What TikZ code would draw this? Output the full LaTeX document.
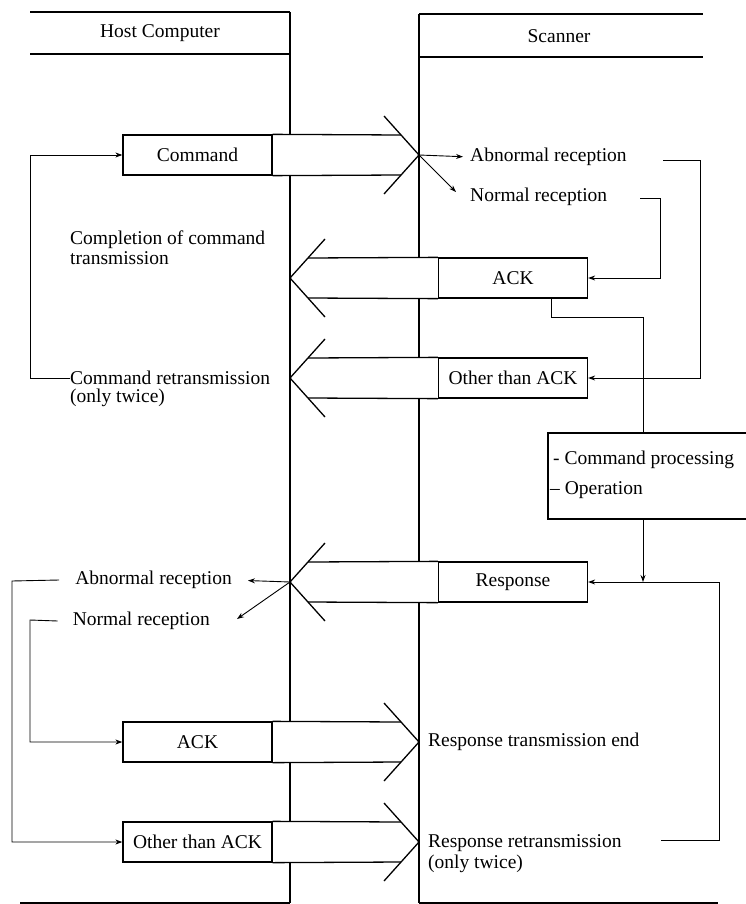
\documentclass[tikz,border=0pt]{standalone}
\usepackage{fontspec}
\setmainfont{Liberation Serif}
\usetikzlibrary{arrows.meta,calc}
\newcommand\MsgRight[3]{%
  \fill[white] (272,#2-20) rectangle (401,#2+20);
  \node[msgbox] (#1) at (197.5,#2) {#3};
  \draw[lane] (#1.north east) -- (401,#2-20) (#1.south east) -- (401,#2+20);
  \draw[lane] (384,#2-39) -- (419,#2) -- (384,#2+39);
  \coordinate (#1tip) at (419,#2);}
\newcommand\MsgLeft[3]{%
  \fill[white] (308,#2-20) rectangle (438,#2+20);
  \node[msgbox] (#1) at (513,#2) {#3};
  \draw[lane] (#1.north west) -- (308,#2-20) (#1.south west) -- (308,#2+20);
  \draw[lane] (325,#2-39) -- (290,#2) -- (325,#2+39);
  \coordinate (#1tip) at (290,#2);}
\begin{document}
\begin{tikzpicture}[x=1pt,y=-1pt,
  lane/.style={line width=1.3pt},
  conn/.style={line width=0.9pt},
  tipar/.style={-{Stealth[length=7pt,width=5pt]}},
  msgbox/.style={draw,line width=1.3pt,fill=white,minimum width=149pt,minimum height=40pt,inner sep=0pt},
  txt/.style={inner sep=0pt,anchor=west},
  txte/.style={inner sep=0pt,anchor=east},
  every node/.style={font=\fontsize{19.5}{20}\selectfont}]
\fill[white] (0,0) rectangle (746,904);
\useasboundingbox (0,0) rectangle (746,904);

% headers and lifelines
\draw[lane] (30,12) -- (290,12) (30,54) -- (290,54);
\draw[lane] (419,14) -- (703,14) (419,57) -- (703,57);
\node (host) at (160,33) {Host Computer};
\node (scan) at (559,36) {Scanner};
\draw[lane] (290,12) -- (290,903);
\draw[lane] (419,14) -- (419,903);
\draw[lane] (20,903) -- (290,903);
\draw[lane] (419,903) -- (718,903);

% messages
\MsgRight{cmdH}{155}{Command}
\MsgLeft{ackS}{278}{ACK}
\MsgLeft{oackS}{378}{Other than ACK}
\MsgLeft{respS}{582}{Response}
\MsgRight{ackH}{742}{ACK}
\MsgRight{oackH}{842}{Other than ACK}

% texts
\node[txt] (ar1) at (470,157) {Abnormal reception};
\node[txt] (nr1) at (470,197) {Normal reception};
\node[txt,align=left] (compl) at (70,248) {Completion of command\\transmission};
\node[txt] (cret1) at (70,378) {Command retransmission};
\node[txt] (cret2) at (70,398) {(only twice)};
\node[txte] (ar2) at (232,580) {Abnormal reception};
\node[txte] (nr2) at (210,621) {Normal reception};
\node[txt] (rte) at (428,742) {Response transmission end};
\node[txt] (rrt1) at (428,843) {Response retransmission};
\node[txt] (rrt2) at (428,864) {(only twice)};

% command processing box (open to the right edge)
\node[draw,lane,minimum width=212pt,minimum height=86pt,inner sep=0pt] (cp) at (654,476) {};
\node[txt] (cp1) at (553,460) {- Command processing};
\node[txt] (cp2) at (550,490) {– Operation};

% reception arrows
\draw[conn,tipar,shorten >=7pt] (cmdHtip) -- (ar1.west);
\coordinate (nr1a) at (456,192);
\draw[conn,tipar] (cmdHtip) -- (nr1a);
\draw[conn,tipar,shorten >=16pt] (respStip) -- (ar2.east);
\coordinate (nr2a) at (237,619);
\draw[conn,tipar] (respStip) -- (nr2a);

% scanner side connectors
\coordinate (a1s) at (663,160);
\coordinate (a1c) at (700,160);
\draw[conn,tipar] (a1s) -- (a1c) |- (oackS.east);
\coordinate (n1s) at (640,198);
\coordinate (n1c) at (660,198);
\draw[conn,tipar] (n1s) -- (n1c) |- (ackS.east);
\coordinate (k1c) at (643,317);
\draw[conn] ([xshift=38pt]ackS.south) |- (k1c) -- (k1c |- cp.north);
\coordinate (rj) at (643,582);
\draw[conn,tipar] (k1c |- cp.south) -- (rj);
\coordinate (r1s) at (661,840);
\coordinate (r1c) at (719,840);
\draw[conn,tipar] (r1s) -- (r1c) |- (respS.east);

% host side connectors
\coordinate (c1c) at (30,378);
\draw[conn,tipar] (cret1.west) -- (c1c) |- (cmdH.west);
\coordinate (a2c) at (12,581);
\draw[conn,tipar] ([xshift=-16pt]ar2.west) -- (a2c) |- (oackH.west);
\coordinate (n2c) at (30,620);
\draw[conn,tipar] ([xshift=-15pt]nr2.west) -- (n2c) |- (ackH.west);
\end{tikzpicture}
\end{document}
